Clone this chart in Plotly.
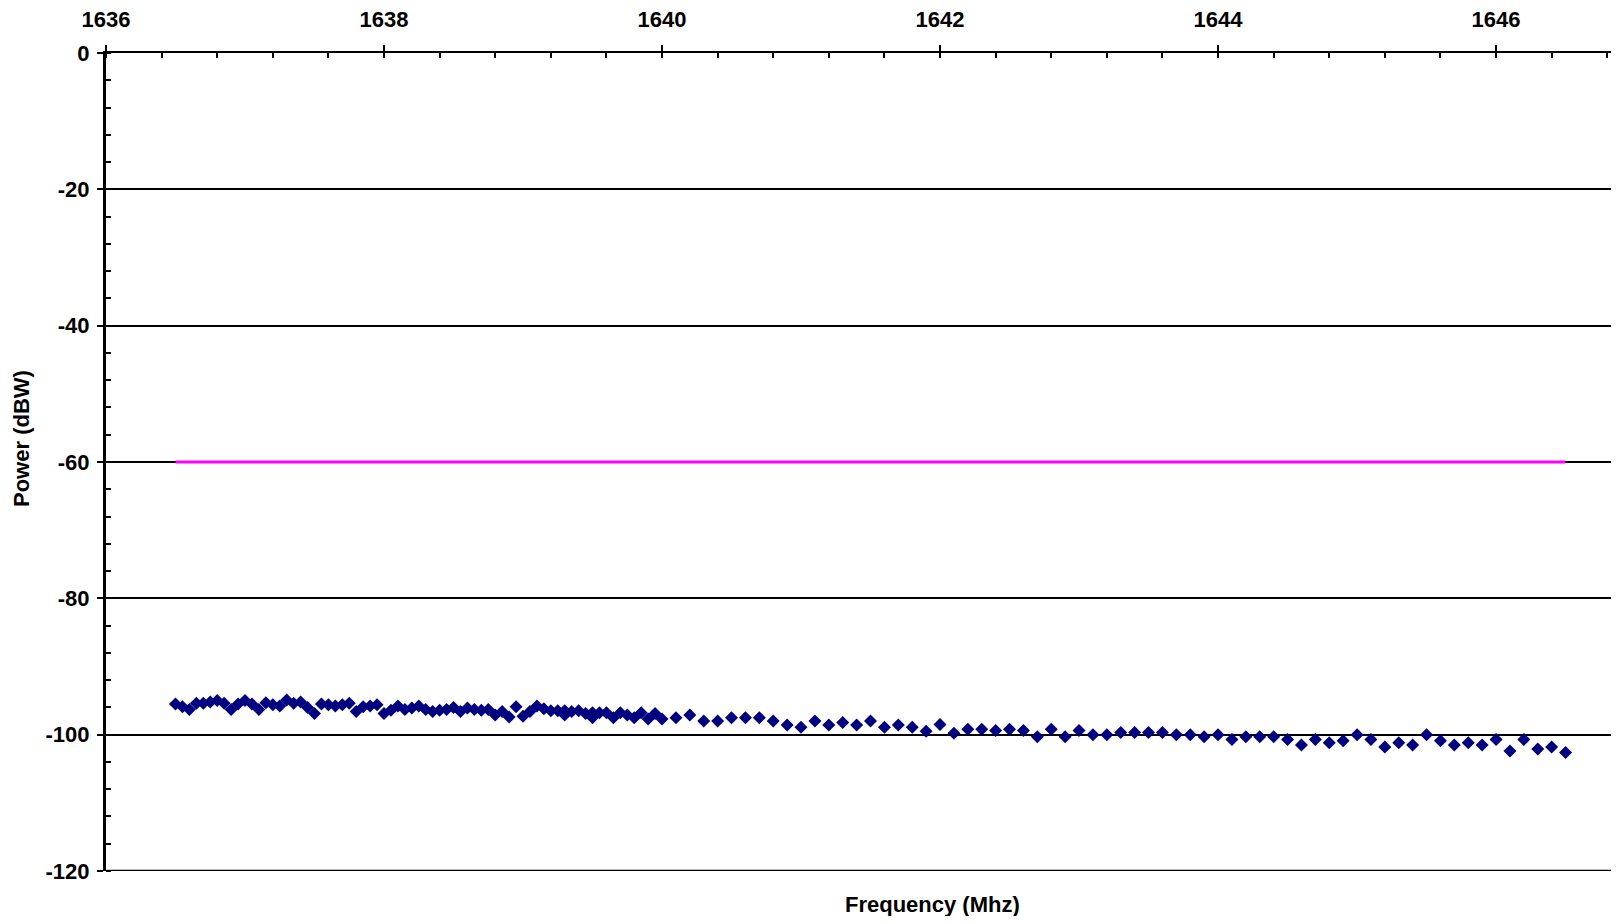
import plotly.graph_objects as go

FONT = "Liberation Sans, Arial, sans-serif"

# measured spectrum (MHz, dBW)
freq_mhz = [
    1636.50, 1636.55, 1636.60, 1636.65, 1636.70, 1636.75, 1636.80, 1636.85, 1636.90, 1636.95,
    1637.00, 1637.05, 1637.10, 1637.15, 1637.20, 1637.25, 1637.30, 1637.35, 1637.40, 1637.45,
    1637.50, 1637.55, 1637.60, 1637.65, 1637.70, 1637.75, 1637.80, 1637.85, 1637.90, 1637.95,
    1638.00, 1638.05, 1638.10, 1638.15, 1638.20, 1638.25, 1638.30, 1638.35, 1638.40, 1638.45,
    1638.50, 1638.55, 1638.60, 1638.65, 1638.70, 1638.75, 1638.80, 1638.85, 1638.90, 1638.95,
    1639.00, 1639.05, 1639.10, 1639.15, 1639.20, 1639.25, 1639.30, 1639.30, 1639.35, 1639.40,
    1639.45, 1639.50, 1639.50, 1639.55, 1639.60, 1639.65, 1639.70, 1639.75, 1639.80, 1639.85,
    1639.90, 1639.95, 1640.00,
    1640.1, 1640.2, 1640.3, 1640.4, 1640.5, 1640.6, 1640.7, 1640.8, 1640.9, 1641.0,
    1641.1, 1641.2, 1641.3, 1641.4, 1641.5, 1641.6, 1641.7, 1641.8, 1641.9, 1642.0,
    1642.1, 1642.2, 1642.3, 1642.4, 1642.5, 1642.6, 1642.7, 1642.8, 1642.9, 1643.0,
    1643.1, 1643.2, 1643.3, 1643.4, 1643.5, 1643.6, 1643.7, 1643.8, 1643.9, 1644.0,
    1644.1, 1644.2, 1644.3, 1644.4, 1644.5, 1644.6, 1644.7, 1644.8, 1644.9, 1645.0,
    1645.1, 1645.2, 1645.3, 1645.4, 1645.5, 1645.6, 1645.7, 1645.8, 1645.9, 1646.0,
    1646.1, 1646.2, 1646.3, 1646.4, 1646.5,
]
power_dbw = [
    -95.5, -95.9, -96.3, -95.4, -95.4, -95.2, -95.0, -95.4, -96.3, -95.5,
    -95.0, -95.5, -96.3, -95.3, -95.6, -95.8, -94.9, -95.4, -95.2, -96.0,
    -96.9, -95.5, -95.6, -95.8, -95.6, -95.4, -96.6, -95.9, -95.8, -95.6,
    -96.9, -96.4, -95.8, -96.3, -96.1, -95.8, -96.3, -96.6, -96.4, -96.3,
    -96.0, -96.6, -96.1, -96.3, -96.4, -96.3, -97.1, -96.6, -97.4, -95.9,
    -97.3, -96.6, -95.8, -96.2, -96.5, -96.5, -96.5, -97.1, -96.6, -96.5,
    -96.9, -97.5, -96.8, -96.8, -96.8, -97.5, -96.8, -97.1, -97.5, -96.8,
    -97.7, -96.9, -97.7,
    -97.5, -97.1, -98.0, -98.0, -97.5, -97.5, -97.5, -98.0, -98.6, -98.9,
    -98.0, -98.6, -98.2, -98.6, -98.0, -98.9, -98.6, -98.9, -99.5, -98.5,
    -99.8, -99.2, -99.2, -99.4, -99.2, -99.4, -100.3, -99.2, -100.3, -99.4,
    -100.0, -100.0, -99.7, -99.7, -99.7, -99.7, -100.0, -100.0, -100.3, -100.0,
    -100.7, -100.3, -100.3, -100.3, -100.7, -101.5, -100.7, -101.2, -100.9, -100.0,
    -100.7, -101.8, -101.2, -101.5, -100.0, -100.9, -101.5, -101.2, -101.5, -100.7,
    -102.4, -100.7, -102.1, -101.8, -102.6,
]

# limit line
limit_freq = [1636.5, 1646.5]
limit_dbw = [-60, -60]

x_ticks = [1636, 1638, 1640, 1642, 1644, 1646]
y_ticks = [0, -20, -40, -60, -80, -100, -120]
y_tick_text = ["0", "-20", "-40", "-60", "-80", "-100", "-120"]

X_RANGE = [1636, 1646.827]
Y_RANGE = [-120, 0]

tick_font = dict(family=FONT, size=22, color="black", weight="bold")
title_font = dict(family=FONT, size=22, color="black", weight="bold")

figure = go.Figure()
figure.add_trace(
    go.Scatter(
        x=limit_freq,
        y=limit_dbw,
        mode="lines",
        line=dict(color="#FF00FF", width=3),
        showlegend=False,
    )
)
figure.add_trace(
    go.Scatter(
        x=freq_mhz,
        y=power_dbw,
        mode="markers",
        marker=dict(symbol="diamond", size=10, color="#000080"),
        showlegend=False,
    )
)

# page body adds an 8px margin, so the figure is sized to fit the window
figure.update_layout(
    width=1603,
    height=908,
    plot_bgcolor="white",
    paper_bgcolor="white",
    margin=dict(t=45, b=45, l=98, r=0, autoexpand=False),
    xaxis=dict(
        side="top",
        range=X_RANGE,
        tickvals=x_ticks,
        ticks="outside",
        ticklen=6,
        tickwidth=2,
        tickcolor="black",
        tickfont=tick_font,
        ticklabelstandoff=9,
        showline=True,
        linecolor="black",
        linewidth=2,
        showgrid=False,
        zeroline=False,
        automargin=False,
        minor=dict(dtick=0.4, ticks="inside", ticklen=5, tickwidth=1.5, tickcolor="black"),
    ),
    xaxis2=dict(
        overlaying="x",
        side="top",
        range=X_RANGE,
        tickvals=x_ticks,
        ticks="inside",
        ticklen=6,
        tickwidth=2,
        tickcolor="black",
        showticklabels=False,
        showgrid=False,
        zeroline=False,
        automargin=False,
    ),
    yaxis=dict(
        range=Y_RANGE,
        tickvals=y_ticks,
        ticktext=y_tick_text,
        ticks="outside",
        ticklen=6,
        tickwidth=2,
        tickcolor="black",
        tickfont=tick_font,
        ticklabelstandoff=3,
        showline=True,
        linecolor="black",
        linewidth=3,
        showgrid=True,
        gridcolor="black",
        gridwidth=1.5,
        zeroline=False,
        automargin=False,
        minor=dict(dtick=4, ticks="inside", ticklen=5, tickwidth=1.5, tickcolor="black", showgrid=False),
    ),
    yaxis2=dict(
        overlaying="y",
        side="left",
        range=Y_RANGE,
        tickvals=y_ticks,
        ticks="inside",
        ticklen=6,
        tickwidth=2,
        tickcolor="black",
        showticklabels=False,
        showgrid=False,
        zeroline=False,
        automargin=False,
    ),
    shapes=[
        dict(type="line", xref="paper", yref="y", x0=0, x1=1, y0=-120, y1=-120,
             line=dict(color="black", width=2.5)),
    ],
    annotations=[
        dict(text="Frequency (Mhz)", xref="paper", yref="paper", x=0.549, y=-0.0415,
             showarrow=False, yanchor="middle", font=title_font),
        dict(text="Power (dBW)", xref="paper", yref="paper", x=-0.056, y=0.529,
             showarrow=False, textangle=-90, xanchor="center", font=title_font),
    ],
)

figure.write_html("out.html")
